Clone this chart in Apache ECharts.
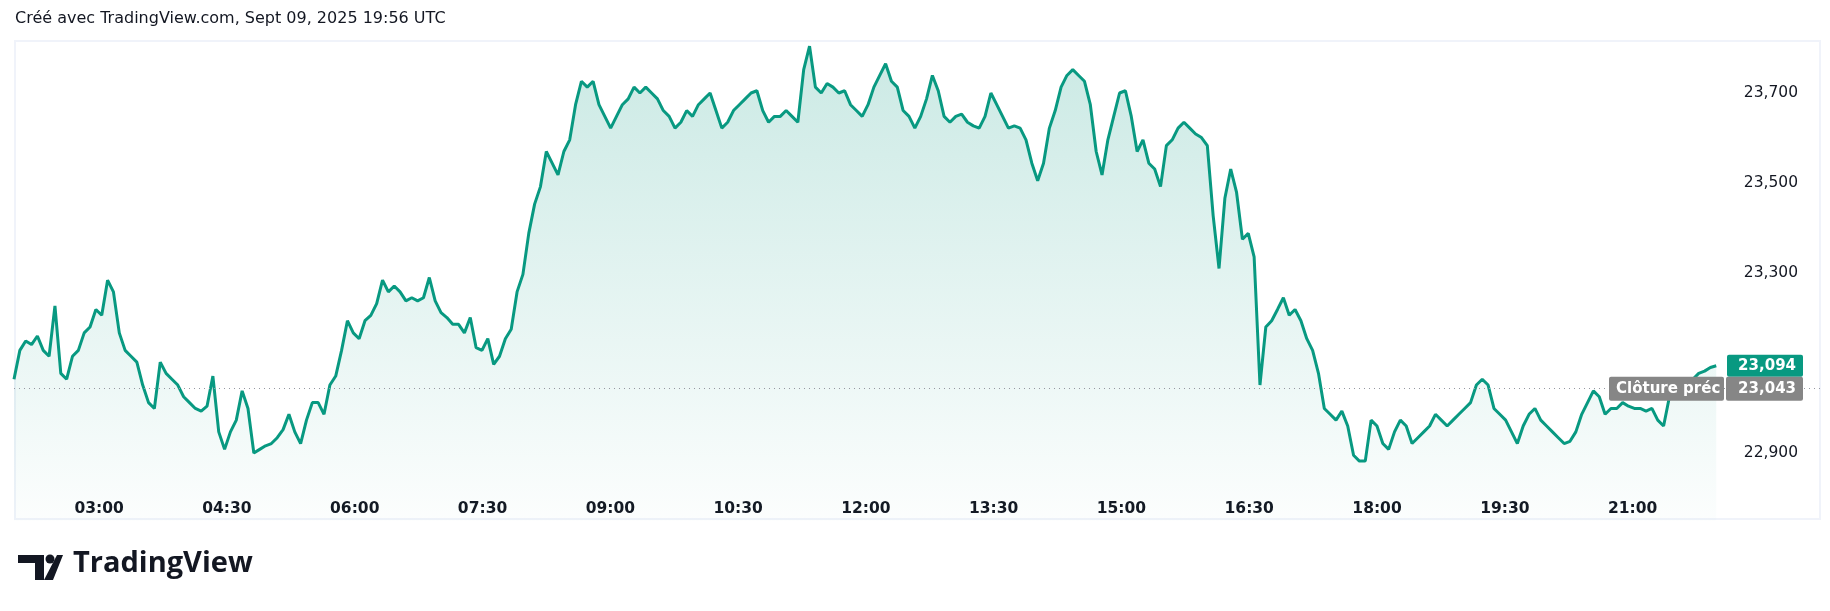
<!DOCTYPE html>
<html><head><meta charset="utf-8">
<script src="https://cdn.jsdelivr.net/npm/echarts@6/dist/echarts.min.js"></script>
<style>html,body{margin:0;padding:0;background:#fff}#c{width:1830px;height:611px}</style>
</head><body><div id="c"></div>
<script>
const startMinute = 120;      // 02:00
const stepMinutes = 4.12;
const prices = [
23064,23128,23149,23141,23160,23128,23115,23227,23077,23064,
23115,23128,23167,23180,23219,23206,23284,23258,23167,23128,
23115,23102,23051,23012,22999,23102,23077,23064,23051,23025,
23012,22999,22993,23004,23071,22947,22908,22947,22973,23038,
22999,22900,22908,22916,22921,22934,22952,22986,22947,22921,
22973,23012,23012,22986,23051,23071,23128,23194,23167,23154,
23194,23206,23232,23284,23258,23271,23258,23238,23245,23238,
23245,23290,23238,23212,23201,23186,23186,23167,23201,23134,
23128,23154,23097,23115,23154,23175,
23258,23297,23388,23453,23492,23570,23544,23518,23570,23596,
23674,23726,23713,23726,23674,23648,23622,23648,23674,23687,
23713,23700,23713,23700,23687,23661,23648,23622,23635,23661,
23648,23674,23687,23700,23661,23622,23635,23661,23674,23687,
23700,23705,23661,23635,23648,23648,23661,23648,23635,23752,
23804,23713,23700,23721,23713,23700,23705,23674,23661,23648,
23674,23713,23739,23765,23726,23713,23661,23648,23622,23648,
23687,23739,23705,23648,23635,23648,23653,23635,23627,23622,
23648,23700,23674,23648,23622,23627,23622,23596,23544,23505,
23544,23622,23661,23713,23739,23752,23739,23726,23674,23570,
23518,23596,23648,23700,23705,23648,23570,23596,23544,23531,
23492,23583,23596,23622,23635,23622,23609,23601,23583,23427,
23310,23466,23531,23479,23375,23388,23336,23051,23180,23194,
23219,23245,23206,23219,23194,23154,23128,23077,22999,22986,
22973,22993,22960,22895,22882,22882,22973,22960,22921,22908,
22947,22973,22960,22921,22934,22947,22960,22986,22973,22960,
22973,22986,22999,23012,23051,23064,23051,22999,22986,22973,
22947,22921,22960,22986,22999,22973,22960,22947,22934,22921,
22926,22947,22986,23012,23038,23025,22986,22999,22999,23012,
23004,22999,22999,22993,22999,22973,22960,23025,23051,23051,
23064,23064,23077,23082,23090,23094
];
const prevClose = 23043;
const lastPrice = 23094;
const yTicks = [22900, 23100, 23300, 23500, 23700];
const xTickMinutes = [180, 270, 360, 450, 540, 630, 720, 810, 900, 990, 1080, 1170, 1260];
const headerText = 'Créé avec TradingView.com, Sept 09, 2025 19:56 UTC';
const prevLabel = 'Clôture préc';

const fmt = v => v.toLocaleString('en-US');
const pad = n => String(n).padStart(2, '0');
const data = prices.map((p, i) => [startMinute + i * stepMinutes, p]);
const green = '#089981';
const font = '"DejaVu Sans", Verdana, sans-serif';

const chart = echarts.init(document.getElementById('c'), null, {renderer: 'canvas'});
chart.setOption({
  animation: false,
  backgroundColor: '#ffffff',
  grid: {left: 14, right: 10, top: 25.5, bottom: 90.5},
  xAxis: {
    type: 'value', min: 120, max: 1392, interval: 30,
    axisLine: {show: false}, axisTick: {show: false}, splitLine: {show: false},
    axisLabel: {
      margin: -20, color: '#131722', fontSize: 15.5, fontWeight: 'bold', fontFamily: font,
      formatter: v => xTickMinutes.includes(v) ? pad(Math.floor(v / 60)) + ':' + pad(v % 60) : ''
    }
  },
  yAxis: {
    type: 'value', position: 'right', min: 22750, max: 23850, interval: 50,
    axisLine: {show: false}, axisTick: {show: false}, splitLine: {show: false},
    axisLabel: {
      inside: true, margin: 22, color: '#131722', fontSize: 15.5, fontFamily: font,
      formatter: v => (yTicks.includes(v) ? fmt(v) : '')
    }
  },
  series: [{
    type: 'line', data: data, showSymbol: false, smooth: false,
    lineStyle: {color: green, width: 3},
    areaStyle: {origin: 'start', color: new echarts.graphic.LinearGradient(0, 0, 0, 1, [
      {offset: 0, color: 'rgba(8,153,129,0.30)'},
      {offset: 1, color: 'rgba(8,153,129,0.02)'}
    ])},
    markLine: {
      silent: true, symbol: 'none', label: {show: false},
      lineStyle: {color: '#9598a1', type: [1, 4], width: 1},
      data: [{yAxis: prevClose}]
    }
  }]
});

const yLast = chart.convertToPixel({yAxisIndex: 0}, lastPrice);
const yPrev = chart.convertToPixel({yAxisIndex: 0}, prevClose);
chart.setOption({
  graphic: [
    {type: 'rect', shape: {x: 15, y: 41, width: 1805, height: 478}, style: {fill: 'none', stroke: '#f0f3fa', lineWidth: 2}, z: 0},
    {type: 'text', left: 15, top: 11, style: {text: headerText, font: '16px ' + font, fill: '#131722'}},
    {type: 'rect', shape: {x: 1727, y: yLast - 11, width: 76, height: 22, r: 2}, style: {fill: green}, z: 10},
    {type: 'text', x: 1796, y: yLast, style: {text: fmt(lastPrice), font: 'bold 15px ' + font, fill: '#fff', align: 'right', verticalAlign: 'middle'}, z: 11},
    {type: 'rect', shape: {x: 1609, y: yPrev - 12, width: 115, height: 24, r: 2}, style: {fill: '#868686'}, z: 10},
    {type: 'text', x: 1616, y: yPrev, style: {text: prevLabel, font: 'bold 15px ' + font, fill: '#fff', verticalAlign: 'middle'}, z: 11},
    {type: 'rect', shape: {x: 1726, y: yPrev - 12, width: 77, height: 24, r: 2}, style: {fill: '#868686'}, z: 10},
    {type: 'text', x: 1796, y: yPrev, style: {text: fmt(prevClose), font: 'bold 15px ' + font, fill: '#fff', align: 'right', verticalAlign: 'middle'}, z: 11},
    // TradingView logo
    {type: 'polygon', shape: {points: [[18,555],[44,555],[44,580],[35,580],[35,563],[18,563]]}, style: {fill: '#131722'}},
    {type: 'circle', shape: {cx: 50, cy: 559, r: 4.5}, style: {fill: '#131722'}},
    {type: 'polygon', shape: {points: [[57,555],[63,555],[53,580],[44,580]]}, style: {fill: '#131722'}},
    {type: 'text', left: 73, top: 549, style: {text: 'TradingView', font: 'bold 29px "Open Sans", sans-serif', fill: '#131722'}}
  ]
});
</script></body></html>
